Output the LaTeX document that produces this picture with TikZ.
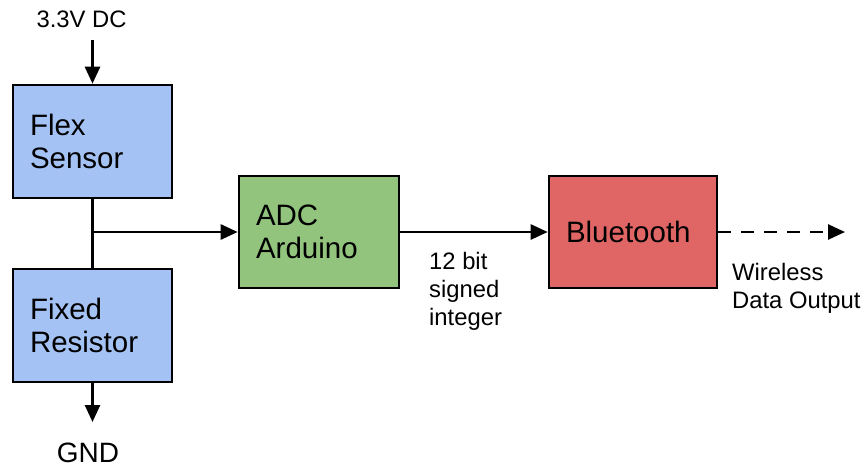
\documentclass[tikz,border=0pt]{standalone}
\usepackage{fontspec}
\setmainfont{Liberation Sans}
\usetikzlibrary{arrows.meta}
\definecolor{flexblue}{HTML}{A4C2F4}
\definecolor{adcgreen}{HTML}{93C47D}
\definecolor{btred}{HTML}{E06666}
\begin{document}
\begin{tikzpicture}[x=1pt,y=-1pt,
 box/.style={draw=black, line width=2.6pt, minimum height=112pt, inner xsep=17pt, inner ysep=0pt, align=left, font=\fontsize{29.5}{33}\selectfont, anchor=center},
 lbl/.style={font=\fontsize{23.8}{28}\selectfont, align=left, inner sep=0pt},
 wire/.style={line width=2.6pt},
 arr/.style={wire, -{Triangle[length=17pt,width=15pt]}},
]
\useasboundingbox (0,0) rectangle (865,467);
\node[box, fill=flexblue, text width=125pt, minimum height=113pt] (flex) at (92.5,141.5) {Flex\\Sensor};
\node[box, fill=flexblue, text width=125pt, minimum height=113pt] (fixed) at (92.5,325.5) {Fixed\\Resistor};
\node[box, fill=adcgreen, text width=126pt] (adc) at (319,232) {ADC\\Arduino};
\node[box, fill=btred, text width=134pt] (bt) at (633,232) {Bluetooth};
\node[lbl, anchor=base] (vdc) at (81.5,27) {3.3V DC};
\coordinate (vin) at (92.5,40);
\draw[arr] (vin) -- (flex.north);
\draw[wire] (flex.south) -- (fixed.north);
\coordinate (tap) at (92.5,232);
\draw[arr] (tap) -- (adc.west);
\draw[arr] (adc.east) -- (bt.west);
\coordinate (wout) at (845,232);
\draw[arr, dash pattern=on 13pt off 10pt] (bt.east) -- (wout);
\coordinate (gndend) at (92.5,422);
\draw[arr] (fixed.south) -- (gndend);
\node[font=\fontsize{28}{30}\selectfont, anchor=base, inner sep=0pt] (gnd) at (88,462) {GND};
\node[lbl, anchor=north west] (bits) at (429,252) {12 bit\\signed\\integer};
\node[lbl, anchor=north west] (wl) at (732,263) {Wireless\\Data Output};
\end{tikzpicture}
\end{document}
